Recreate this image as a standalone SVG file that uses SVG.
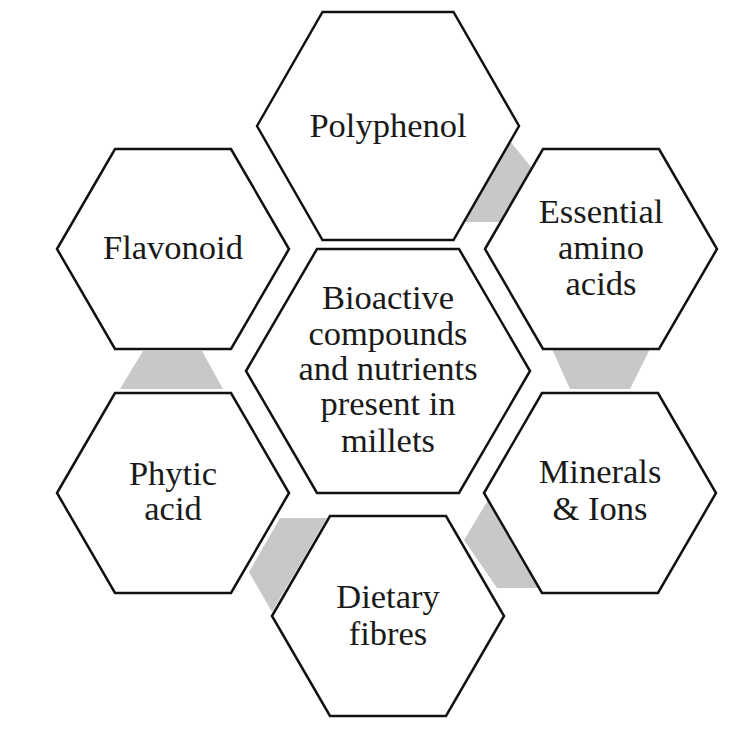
<svg xmlns="http://www.w3.org/2000/svg" width="750" height="741" viewBox="0 0 750 741">
<style>
.hex{fill:#ffffff;stroke:#111111;stroke-width:2.5;stroke-linejoin:miter}
.gap{fill:#c8c8c8;stroke:none}
.lbl{font-family:"Liberation Serif","Times New Roman",serif;font-size:34.5px;fill:#1a1a1a;text-anchor:middle}
</style>
<rect width="750" height="741" fill="#ffffff"/>
<g id="connectors">
<polygon class="gap" points="509,140 532,168 500,222 464,222"/>
<polygon class="gap" points="552,349 650,349 630,389 570,389"/>
<polygon class="gap" points="488,500 464,540 497,588 540,588"/>
<polygon class="gap" points="280,518 327,518 272,612 249,572"/>
<polygon class="gap" points="143,351 202,351 223,389 120,389"/>
</g>
<g id="polyphenol">
<polygon class="hex" points="257,126 322.5,12 453.5,12 519,126 453.5,240 322.5,240"/>
<text class="lbl" x="388" y="137">Polyphenol</text>
</g>
<g id="center">
<polygon class="hex" points="246,371 317,249 459,249 530,371 459,493 317,493"/>
<text class="lbl" x="388" y="309">Bioactive</text>
<text class="lbl" x="388" y="345">compounds</text>
<text class="lbl" x="388" y="380">and nutrients</text>
<text class="lbl" x="388" y="415">present in</text>
<text class="lbl" x="388" y="452">millets</text>
</g>
<g id="essential">
<polygon class="hex" points="485,249 543,149 659,149 717,249 659,349 543,349"/>
<text class="lbl" x="601" y="223">Essential</text>
<text class="lbl" x="601" y="259">amino</text>
<text class="lbl" x="601" y="295">acids</text>
</g>
<g id="minerals">
<polygon class="hex" points="484,493 542,393 658,393 716,493 658,593 542,593"/>
<text class="lbl" x="600" y="483">Minerals</text>
<text class="lbl" x="600" y="520">&amp; Ions</text>
</g>
<g id="dietary">
<polygon class="hex" points="272,616 330,516 446,516 504,616 446,716 330,716"/>
<text class="lbl" x="388" y="608">Dietary</text>
<text class="lbl" x="388" y="645">fibres</text>
</g>
<g id="phytic">
<polygon class="hex" points="57,493 115,393 231,393 289,493 231,593 115,593"/>
<text class="lbl" x="173" y="485">Phytic</text>
<text class="lbl" x="173" y="520">acid</text>
</g>
<g id="flavonoid">
<polygon class="hex" points="57,249 115,149 231,149 289,249 231,349 115,349"/>
<text class="lbl" x="173" y="259">Flavonoid</text>
</g>
</svg>
